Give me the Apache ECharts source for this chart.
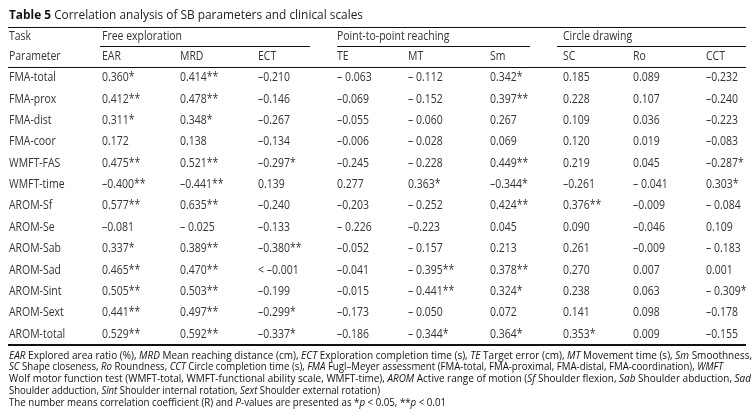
<!DOCTYPE html>
<html>
<head>
<meta charset="utf-8">
<script src="https://cdn.jsdelivr.net/npm/echarts@6/dist/echarts.min.js"></script>
<style>
html,body{margin:0;padding:0;background:#fff;}
#chart{width:754px;height:417px;}
</style>
</head>
<body>
<div id="chart"></div>
<script>
// ---- data ----
var titleBold = 'Table 5';
var titleText = 'Correlation analysis of SB parameters and clinical scales';
var taskGroups = ['Free exploration', 'Point-to-point reaching', 'Circle drawing'];
var columnLabels = ['EAR', 'MRD', 'ECT', 'TE', 'MT', 'Sm', 'SC', 'Ro', 'CCT'];
var rowLabels = ['FMA-total', 'FMA-prox', 'FMA-dist', 'FMA-coor', 'WMFT-FAS', 'WMFT-time',
  'AROM-Sf', 'AROM-Se', 'AROM-Sab', 'AROM-Sad', 'AROM-Sint', 'AROM-Sext', 'AROM-total'];
var EAR = ['0.360*', '0.412**', '0.311*', '0.172', '0.475**', '\u20130.400**', '0.577**', '\u20130.081', '0.337*', '0.465**', '0.505**', '0.441**', '0.529**'];
var MRD = ['0.414**', '0.478**', '0.348*', '0.138', '0.521**', '\u20130.441**', '0.635**', '\u2013 0.025', '0.389**', '0.470**', '0.503**', '0.497**', '0.592**'];
var ECT = ['\u20130.210', '\u20130.146', '\u20130.267', '\u20130.134', '\u20130.297*', '0.139', '\u20130.240', '\u20130.133', '\u20130.380**', '< \u20130.001', '\u20130.199', '\u20130.299*', '\u20130.337*'];
var TE = ['\u2013 0.063', '\u20130.069', '\u20130.055', '\u20130.006', '\u20130.245', '0.277', '\u20130.203', '\u2013 0.226', '\u20130.052', '\u20130.041', '\u20130.015', '\u20130.173', '\u20130.186'];
var MT = ['\u2013 0.112', '\u2013 0.152', '\u2013 0.060', '\u2013 0.028', '\u2013 0.228', '0.363*', '\u2013 0.252', '\u20130.223', '\u2013 0.157', '\u2013 0.395**', '\u2013 0.441**', '\u2013 0.050', '\u2013 0.344*'];
var Sm = ['0.342*', '0.397**', '0.267', '0.069', '0.449**', '\u20130.344*', '0.424**', '0.045', '0.213', '0.378**', '0.324*', '0.072', '0.364*'];
var SC = ['0.185', '0.228', '0.109', '0.120', '0.219', '\u20130.261', '0.376**', '0.090', '0.261', '0.270', '0.238', '0.141', '0.353*'];
var Ro = ['0.089', '0.107', '0.036', '0.019', '0.045', '\u2013 0.041', '\u20130.009', '\u20130.046', '\u20130.009', '0.007', '0.063', '0.098', '0.009'];
var CCT = ['\u20130.232', '\u20130.240', '\u20130.223', '\u20130.083', '\u20130.287*', '0.303*', '\u2013 0.084', '0.109', '\u2013 0.183', '0.001', '\u2013 0.309*', '\u20130.178', '\u20130.155'];
var columns = [EAR, MRD, ECT, TE, MT, Sm, SC, Ro, CCT];
// footnote lines: segments [text, italic]
var footnotes = [
  [['EAR', 1], [' Explored area ratio (%), ', 0], ['MRD', 1], [' Mean reaching distance (cm), ', 0], ['ECT', 1], [' Exploration completion time (s), ', 0], ['TE', 1], [' Target error (cm), ', 0], ['MT', 1], [' Movement time (s), ', 0], ['Sm', 1], [' Smoothness,', 0]],
  [['SC', 1], [' Shape closeness, ', 0], ['Ro', 1], [' Roundness, ', 0], ['CCT', 1], [' Circle completion time (s), ', 0], ['FMA', 1], [' Fugl\u2013Meyer assessment (FMA-total, FMA-proximal, FMA-distal, FMA-coordination), ', 0], ['WMFT', 1]],
  [['Wolf motor function test (WMFT-total, WMFT-functional ability scale, WMFT-time), ', 0], ['AROM', 1], [' Active range of motion (', 0], ['Sf', 1], [' Shoulder flexion, ', 0], ['Sab', 1], [' Shoulder abduction, ', 0], ['Sad', 1]],
  [['Shoulder adduction, ', 0], ['Sint', 1], [' Shoulder internal rotation, ', 0], ['Sext', 1], [' Shoulder external rotation)', 0]],
  [['The number means correlation coefficient (R) and ', 0], ['P', 1], ['-values are presented as *', 0], ['p', 1], [' < 0.05, **', 0], ['p', 1], [' < 0.01', 0]]
];

// ---- layout ----
var FONT = 'Open Sans';
var TXT = '#333';
var left = 9, right = 746;
var colX = [102, 180, 258, 337, 408, 490, 563, 633, 706];
var groupRanges = [[100, 310], [337, 530], [557, 746]];
var groupStartCol = [0, 3, 6];
var yTitle = 15.5, yTopRule = 27.5, yTask = 37, ySub = 46.5, yParam = 57, yHeadRule = 67.5;
var yRow0 = 78, rowStep = 21.35, yBottomRule = 345, yFoot0 = 355.5, footStep = 11.9;
var fs = 11.8, ffs = 10.8, tfs = 13;
var footWidths = [743, 714, 742, 371, 437];

var ctx = document.createElement('canvas').getContext('2d');
function measure(s, font) { ctx.font = font; return ctx.measureText(s).width; }
function fontStr(size, weight, style) { return (style || 'normal') + ' ' + (weight || 'normal') + ' ' + size + 'px "' + FONT + '"'; }
var bodyScale = 47 / measure('FMA-total', fontStr(fs));

var els = [];
function txt(x, y, s) {
  els.push({type: 'text', x: x, y: y, scaleX: bodyScale, silent: true, style: {
    text: s, fill: TXT, font: fontStr(fs), textVerticalAlign: 'middle', textAlign: 'left'
  }});
}
function hline(x1, x2, y, w) {
  els.push({type: 'line', silent: true, shape: {x1: x1, y1: y, x2: x2, y2: y}, style: {stroke: '#111', lineWidth: w}});
}

// title
var titleW = measure(titleBold, fontStr(tfs, 'bold')) + measure(' ' + titleText, fontStr(tfs));
els.push({type: 'text', x: left, y: yTitle, scaleX: 354 / titleW, silent: true, style: {
  text: '{b|' + titleBold + '}{n| ' + titleText + '}', textVerticalAlign: 'middle',
  rich: {b: {fontFamily: FONT, fontSize: tfs, fontWeight: 'bold', fill: '#111'},
         n: {fontFamily: FONT, fontSize: tfs, fill: '#222'}}
}});
hline(left - 1, right, yTopRule, 1.2);
txt(left, yTask, 'Task');
taskGroups.forEach(function (g, i) {
  txt(colX[groupStartCol[i]], yTask, g);
  hline(groupRanges[i][0], groupRanges[i][1], ySub, 1);
});
txt(left, yParam, 'Parameter');
columnLabels.forEach(function (c, i) { txt(colX[i], yParam, c); });
hline(left - 1, right, yHeadRule, 1.2);
rowLabels.forEach(function (r, j) {
  var y = yRow0 + j * rowStep;
  txt(left, y, r);
  columns.forEach(function (col, i) { txt(colX[i], y, col[j]); });
});
hline(left - 1, right, yBottomRule, 2.2);
footnotes.forEach(function (line, k) {
  var w = 0;
  var s = line.map(function (seg) {
    w += measure(seg[0], fontStr(ffs, 'normal', seg[1] ? 'italic' : 'normal'));
    return '{' + (seg[1] ? 'i' : 'n') + '|' + seg[0] + '}';
  }).join('');
  els.push({type: 'text', x: left, y: yFoot0 + k * footStep, scaleX: footWidths[k] / w, silent: true, style: {
    text: s, textVerticalAlign: 'middle',
    rich: {n: {fontFamily: FONT, fontSize: ffs, fill: '#111'},
           i: {fontFamily: FONT, fontSize: ffs, fontStyle: 'italic', fill: '#111'}}
  }});
});

var chart = echarts.init(document.getElementById('chart'), null, {renderer: 'canvas'});
chart.setOption({backgroundColor: '#fff', animation: false, graphic: {elements: els}});
</script>
</body>
</html>
